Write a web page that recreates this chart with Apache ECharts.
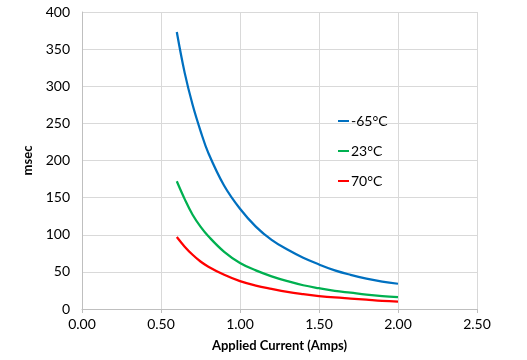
<!DOCTYPE html>
<html><head><meta charset="utf-8">
<script src="https://cdn.jsdelivr.net/npm/echarts@6/dist/echarts.min.js"></script>
<style>html,body{margin:0;padding:0;background:#fff}#c{width:527px;height:360px}</style>
</head><body><div id="c"></div>
<script>
const current = [0.6,0.65,0.7,0.75,0.8,0.9,1.0,1.1,1.2,1.3,1.4,1.5,1.6,1.7,1.8,1.9,2.0];
const tempM65 = [373,318,275,240,210,166,135,111,93,80,69,60,52,46,41,37,34];
const temp23  = [172,148,127,111,98,77,62,52,44,37.5,32,28,24.5,22,19.5,17.5,16];
const temp70  = [97,84,73,64,57,46,37.5,31.5,27,23,20,17.5,15.5,14,12.5,11,10];
const seriesNames = ['-65°C','23°C','70°C'];
const colors = ['#0070C0','#00B050','#FF0000'];
const font = 'Lato, sans-serif';
const pair = (ys) => current.map((x,i)=>[x,ys[i]]);
const chart = echarts.init(document.getElementById('c'));
chart.setOption({
  animation:false,
  grid:{left:82,right:50,top:12,bottom:51},
  legend:{
    orient:'vertical', left:333, top:109, itemGap:16,
    itemWidth:11, itemHeight:2, icon:'rect',
    textStyle:{fontFamily:font,fontSize:14,color:'#000',padding:[0,0,0,-3]},
    data:seriesNames
  },
  xAxis:{
    type:'value', min:0, max:2.5, interval:0.5,
    name:'Applied Current (Amps)', nameLocation:'middle', nameGap:30,
    nameTextStyle:{fontFamily:font,fontSize:13,fontWeight:'bold',color:'#000'},
    axisLine:{show:true,lineStyle:{color:'#bfbfbf'}},
    axisTick:{show:true,length:4,lineStyle:{color:'#bfbfbf'}},
    axisLabel:{fontFamily:font,fontSize:14,color:'#000',margin:8,formatter:v=>v.toFixed(2)},
    splitLine:{show:true,lineStyle:{color:'#d9d9d9'}}
  },
  yAxis:{
    type:'value', min:0, max:400, interval:50,
    name:'msec', nameLocation:'middle', nameGap:40,
    nameTextStyle:{fontFamily:font,fontSize:13,fontWeight:'bold',color:'#000'},
    axisLine:{show:true,lineStyle:{color:'#bfbfbf'}},
    axisTick:{show:false},
    axisLabel:{fontFamily:font,fontSize:14,color:'#000',margin:12},
    splitLine:{show:true,lineStyle:{color:'#d9d9d9'}}
  },
  series:[
    {name:seriesNames[0],type:'line',data:pair(tempM65),smooth:0.4,showSymbol:false,lineStyle:{color:colors[0],width:2.25},itemStyle:{color:colors[0]}},
    {name:seriesNames[1],type:'line',data:pair(temp23),smooth:0.4,showSymbol:false,lineStyle:{color:colors[1],width:2.25},itemStyle:{color:colors[1]}},
    {name:seriesNames[2],type:'line',data:pair(temp70),smooth:0.4,showSymbol:false,lineStyle:{color:colors[2],width:2.25},itemStyle:{color:colors[2]}}
  ]
});
</script></body></html>
